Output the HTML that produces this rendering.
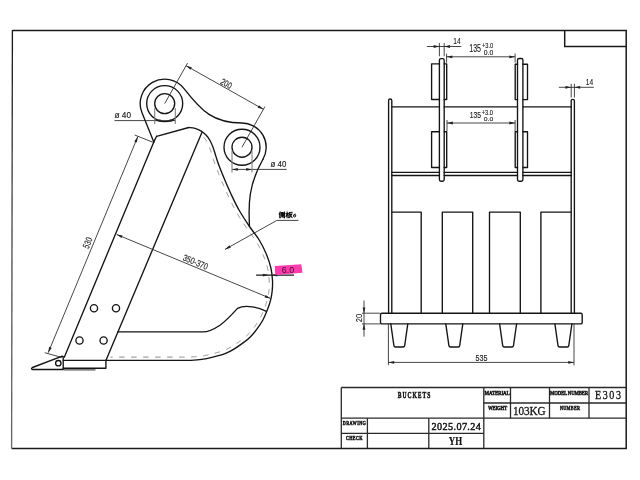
<!DOCTYPE html>
<html><head><meta charset="utf-8"><style>
html,body{margin:0;padding:0;background:#fff;}
svg{display:block;will-change:transform;}
.o{fill:none;stroke:#141414;stroke-width:1.35;stroke-linejoin:round;stroke-linecap:round;}
.f{fill:none;stroke:#1a1a1a;stroke-width:1.5;}
.tb{fill:none;stroke:#2a2a2a;stroke-width:1.3;}
.d{fill:none;stroke:#262626;stroke-width:0.85;}
.h{fill:none;stroke:#858585;stroke-width:0.95;stroke-dasharray:5.5 6.5;}
.ah{fill:#222;stroke:none;}
text{font-family:"Liberation Sans",sans-serif;}
.t{font-size:8.5px;fill:#222;}
.ts{font-size:6px;fill:#222;}
.tt{font-family:"Liberation Serif",serif;font-weight:bold;font-size:8.6px;fill:#111;}
.tl{font-family:"Liberation Serif",serif;font-weight:bold;font-size:5px;fill:#111;}
.tv{font-size:11px;fill:#111;}
.tv2{font-size:12px;fill:#111;}
.tv3{font-family:"Liberation Serif",serif;font-size:13.5px;fill:#111;}
</style></head><body>
<svg width="640" height="480" viewBox="0 0 640 480">
<rect width="640" height="480" fill="#fff"/>

<g class="f">
 <path d="M12.4,30.6 L626.2,30.6 L626.2,448.6 L11.6,448.6"/>
</g>
<defs><linearGradient id="lg" x1="0" y1="30" x2="0" y2="449" gradientUnits="userSpaceOnUse">
<stop offset="0" stop-color="#1a1a1a"/><stop offset="0.35" stop-color="#444"/><stop offset="1" stop-color="#6a6a6a"/></linearGradient></defs>
<path d="M12.4,29.9 L11.6,448.6" stroke="url(#lg)" stroke-width="1.35" fill="none"/>
<g class="f">
 <path d="M564.7,30.6 L564.7,46.5 L626.2,46.5"/>
</g>
<g class="tb">
 <path d="M341.3,387.5 L626.2,387.5 M341.3,387.5 L341.3,448.6"/>
 <path d="M341.3,418.2 L626.2,418.2 M341.3,433.3 L483.8,433.3 M483.8,403 L626.2,403"/>
 <path d="M367.4,418.2 L367.4,448.6 M428.8,418.2 L428.8,448.6 M483.8,387.5 L483.8,448.6"/>
 <path d="M510.5,387.5 L510.5,418.2 M549.5,387.5 L549.5,418.2 M589,387.5 L589,418.2"/>
</g>
<text transform="translate(397.75,398.25) scale(0.62,1)" x="0" y="0" style="font-family:'Liberation Serif',serif;font-size:9.08px;font-weight:bold;font-style:normal;stroke:#111;stroke-width:0.5" fill="#111" textLength="52.61" lengthAdjust="spacing">BUCKETS</text><text transform="translate(342.75,425.00) scale(0.75,1)" x="0" y="0" style="font-family:'Liberation Serif',serif;font-size:5.59px;font-weight:bold;font-style:normal;stroke:#111;stroke-width:0.45" fill="#111" textLength="30.85" lengthAdjust="spacing">DRAWING</text><text transform="translate(346.00,440.25) scale(0.75,1)" x="0" y="0" style="font-family:'Liberation Serif',serif;font-size:5.58px;font-weight:bold;font-style:normal;stroke:#111;stroke-width:0.45" fill="#111" textLength="22.07" lengthAdjust="spacing">CHECK</text><text transform="translate(484.50,395.00) scale(0.75,1)" x="0" y="0" style="font-family:'Liberation Serif',serif;font-size:6.65px;font-weight:bold;font-style:normal;stroke:#111;stroke-width:0.45" fill="#111" textLength="33.64" lengthAdjust="spacing">MATERIAL</text><text transform="translate(488.00,409.50) scale(0.75,1)" x="0" y="0" style="font-family:'Liberation Serif',serif;font-size:6.30px;font-weight:bold;font-style:normal;stroke:#111;stroke-width:0.45" fill="#111" textLength="25.61" lengthAdjust="spacing">WEIGHT</text><text transform="translate(550.00,394.50) scale(0.75,1)" x="0" y="0" style="font-family:'Liberation Serif',serif;font-size:6.31px;font-weight:bold;font-style:normal;stroke:#111;stroke-width:0.45" fill="#111" textLength="50.88" lengthAdjust="spacing">MODEL NUMBER</text><text transform="translate(560.00,409.75) scale(0.75,1)" x="0" y="0" style="font-family:'Liberation Serif',serif;font-size:5.59px;font-weight:bold;font-style:normal;stroke:#111;stroke-width:0.45" fill="#111" textLength="26.67" lengthAdjust="spacing">NUMBER</text><text transform="translate(431.50,429.50) scale(0.95,1)" x="0" y="0" style="font-family:'Liberation Serif',serif;font-size:10.80px;font-weight:normal;font-style:normal;stroke:#111;stroke-width:0.45" fill="#111" textLength="52.04" lengthAdjust="spacing">2025.07.24</text><text x="448.75" y="445.00" style="font-family:'Liberation Serif',serif;font-size:13.30px;font-weight:bold;font-style:normal;stroke:#111;stroke-width:0.2" fill="#111" textLength="13.40" lengthAdjust="spacingAndGlyphs">YH</text><text transform="translate(513.00,414.75) scale(0.85,1)" x="0" y="0" style="font-family:'Liberation Serif',serif;font-size:13.22px;font-weight:normal;font-style:normal;stroke:#111;stroke-width:0.3" fill="#111" textLength="38.30" lengthAdjust="spacing">103KG</text><text transform="translate(595.00,399.25) scale(0.85,1)" x="0" y="0" style="font-family:'Liberation Serif',serif;font-size:11.83px;font-weight:normal;font-style:normal;stroke:#111;stroke-width:0.3" fill="#111" textLength="30.59" lengthAdjust="spacing">E303</text>


<g class="o">
  <path d="M153.8,141.9 L142.00,112.81 A24.5,24.5 0 0 1 184.03,88.55 C201.95,111.57 213.51,123.00 242.0,123.00 A24.2,24.2 0 0 1 262.98,159.26"/>
  <path d="M262.98,159.26 C245.67,189.36 249.4,212.22 249.4,226"/>
  <path d="M156.6,136.3 L188.75,127.5 C189.79,127.65 192.92,127.80 195.00,128.40 C197.08,129.00 199.38,129.95 201.25,131.10 C203.12,132.25 204.79,133.73 206.25,135.30 C207.71,136.87 208.86,138.47 210.00,140.50 C211.14,142.53 212.18,145.08 213.10,147.50 C214.02,149.92 214.58,152.17 215.50,155.00 C216.42,157.83 217.18,160.67 218.60,164.50 C220.02,168.33 221.93,173.08 224.00,178.00 C226.07,182.92 228.50,188.67 231.00,194.00 C233.50,199.33 235.92,204.58 239.00,210.00 C242.08,215.42 246.08,221.42 249.50,226.50 C252.92,231.58 256.67,235.83 259.50,240.50 C262.33,245.17 264.60,249.92 266.50,254.50 C268.40,259.08 269.90,263.68 270.90,268.00 C271.90,272.32 272.28,276.60 272.50,280.40 C272.72,284.20 272.52,287.50 272.20,290.80 C271.88,294.10 271.38,297.07 270.60,300.20 C269.82,303.33 268.78,306.30 267.50,309.60 C266.22,312.90 264.73,316.65 262.90,320.00 C261.07,323.35 258.65,326.83 256.50,329.70 C254.35,332.57 252.12,335.08 250.00,337.20 C247.88,339.32 246.35,340.47 243.75,342.40 C241.15,344.33 237.53,346.93 234.40,348.80 C231.28,350.67 228.60,352.22 225.00,353.60 C221.40,354.98 216.65,356.13 212.80,357.10 C208.95,358.07 205.55,358.87 201.90,359.40 C198.25,359.93 194.55,360.13 190.90,360.30 C187.25,360.47 181.82,360.38 180.00,360.40 L63.3,360.4"/>
  <path d="M153.8,141.9 L156.6,136.3"/>
  <path d="M153.8,141.9 L64.3,357.2"/>
  <path d="M201.9,132.5 L105.9,360.4"/>
  <path d="M117.8,331.9 L203,331.9 C209,331.9 215,328.5 220,325.2 C226,321 232,314.5 237.5,308.4 C241,306.5 248,306.2 252,306.8 C257,307.5 262,309.3 265.9,311.2"/>
  <circle cx="164.7" cy="103.6" r="10"/>
  <circle cx="164.7" cy="103.6" r="18"/>
  <circle cx="242.0" cy="147.2" r="10"/>
  <circle cx="242.0" cy="147.2" r="18"/>
  <circle cx="94" cy="308.2" r="3.6"/>
  <circle cx="116" cy="308.2" r="3.6"/>
  <circle cx="79.5" cy="340.5" r="3.6"/>
  <circle cx="103.6" cy="340.5" r="3.6"/>
  <path d="M32.5,367.5 L62.3,356.2 L63.2,356.6 L63.2,369.5 L32.5,369.5 Q30.5,368.8 32.5,367.5 Z"/>
  <circle cx="58.3" cy="363.2" r="2.7"/>
  <path d="M63.2,368.2 L105.9,368.2 L105.9,360.4"/>
</g>
<path d="M63.7,369.9 L95.5,369.9" stroke="#555" stroke-width="1.2"/>
<path class="h" d="M203.44,137.13 L203.57,137.27 L203.70,137.41 L203.83,137.55 L203.96,137.69 L204.09,137.82 L204.21,137.96 L204.33,138.10 L204.45,138.24 L204.57,138.38 L204.68,138.51 L204.80,138.65 L204.91,138.79 L205.02,138.93 L205.13,139.08 L205.24,139.22 L205.35,139.36 L205.46,139.51 L205.57,139.65 L205.67,139.80 L205.78,139.95 L205.88,140.10 L205.99,140.26 L206.09,140.41 L206.19,140.57 L206.30,140.73 L206.40,140.90 L206.50,141.06 L206.61,141.23 L206.71,141.40 L206.81,141.57 L206.92,141.75 L207.02,141.93 L207.12,142.11 L207.22,142.29 L207.32,142.48 L207.42,142.66 L207.52,142.85 L207.62,143.05 L207.72,143.25 L207.82,143.45 L207.92,143.65 L208.02,143.86 L208.12,144.07 L208.21,144.29 L208.31,144.50 L208.41,144.72 L208.51,144.95 L208.61,145.17 L208.70,145.40 L208.80,145.62 L208.90,145.85 L208.99,146.08 L209.09,146.31 L209.18,146.55 L209.28,146.78 L209.37,147.02 L209.47,147.25 L209.56,147.49 L209.65,147.72 L209.74,147.96 L209.83,148.20 L209.92,148.43 L210.01,148.67 L210.10,148.89 L210.18,149.11 L210.26,149.33 L210.34,149.55 L210.41,149.77 L210.49,149.99 L210.56,150.22 L210.64,150.44 L210.71,150.66 L210.78,150.89 L210.85,151.12 L210.93,151.35 L211.00,151.58 L211.07,151.82 L211.14,152.05 L211.22,152.29 L211.29,152.54 L211.36,152.78 L211.44,153.03 L211.51,153.28 L211.59,153.54 L211.67,153.80 L211.75,154.06 L211.83,154.33 L211.91,154.60 L212.00,154.87 L212.09,155.15 L212.17,155.44 L212.27,155.72 L212.36,156.01 L212.45,156.29 L212.54,156.56 L212.62,156.84 L212.71,157.12 L212.80,157.40 L212.89,157.68 L212.97,157.97 L213.06,158.26 L213.15,158.55 L213.24,158.84 L213.33,159.14 L213.43,159.44 L213.52,159.74 L213.62,160.05 L213.71,160.36 L213.81,160.68 L213.91,161.00 L214.02,161.32 L214.12,161.65 L214.23,161.99 L214.35,162.33 L214.46,162.67 L214.58,163.02 L214.70,163.38 L214.82,163.74 L214.95,164.11 L215.08,164.48 L215.22,164.86 L215.36,165.25 L215.50,165.64 L215.65,166.04 L215.80,166.44 L215.95,166.84 L216.11,167.25 L216.27,167.67 L216.43,168.09 L216.59,168.51 L216.76,168.94 L216.93,169.38 L217.10,169.82 L217.27,170.26 L217.45,170.71 L217.63,171.16 L217.81,171.61 L217.99,172.07 L218.18,172.53 L218.37,173.00 L218.56,173.47 L218.75,173.94 L218.94,174.41 L219.14,174.89 L219.33,175.37 L219.53,175.85 L219.73,176.34 L219.93,176.82 L220.14,177.31 L220.34,177.80 L220.54,178.29 L220.75,178.78 L220.96,179.28 L221.17,179.77 L221.38,180.27 L221.59,180.78 L221.81,181.29 L222.02,181.81 L222.24,182.33 L222.46,182.85 L222.69,183.38 L222.91,183.91 L223.14,184.44 L223.37,184.98 L223.60,185.52 L223.84,186.07 L224.07,186.61 L224.31,187.16 L224.55,187.71 L224.79,188.26 L225.03,188.81 L225.27,189.36 L225.52,189.91 L225.76,190.46 L226.01,191.01 L226.25,191.57 L226.50,192.12 L226.75,192.67 L227.00,193.22 L227.25,193.77 L227.51,194.31 L227.76,194.86 L228.01,195.40 L228.26,195.93 L228.51,196.46 L228.76,197.00 L229.01,197.53 L229.26,198.06 L229.51,198.60 L229.76,199.13 L230.01,199.66 L230.27,200.20 L230.52,200.73 L230.78,201.27 L231.03,201.81 L231.29,202.34 L231.55,202.88 L231.82,203.42 L232.08,203.96 L232.35,204.50 L232.62,205.04 L232.90,205.59 L233.17,206.13 L233.45,206.67 L233.73,207.22 L234.02,207.77 L234.31,208.32 L234.60,208.87 L234.90,209.42 L235.20,209.97 L235.51,210.52 L235.82,211.08 L236.13,211.63 L236.45,212.19 L236.78,212.75 L237.11,213.32 L237.44,213.88 L237.78,214.45 L238.13,215.02 L238.47,215.59 L238.82,216.16 L239.18,216.73 L239.54,217.31 L239.90,217.88 L240.26,218.45 L240.62,219.02 L240.98,219.59 L241.35,220.16 L241.72,220.73 L242.09,221.30 L242.45,221.86 L242.82,222.42 L243.19,222.98 L243.55,223.54 L243.92,224.09 L244.28,224.64 L244.65,225.18 L245.01,225.72 L245.36,226.26 L245.72,226.79 L246.07,227.31 L246.42,227.83 L246.76,228.35 L247.12,228.87 L247.48,229.39 L247.84,229.90 L248.19,230.41 L248.55,230.91 L248.91,231.40 L249.27,231.89 L249.63,232.38 L249.99,232.86 L250.34,233.33 L250.69,233.80 L251.05,234.27 L251.39,234.73 L251.74,235.19 L252.08,235.64 L252.42,236.09 L252.76,236.54 L253.09,236.99 L253.42,237.43 L253.74,237.87 L254.06,238.31 L254.37,238.75 L254.68,239.18 L254.99,239.62 L255.28,240.05 L255.58,240.48 L255.86,240.92 L256.14,241.35 L256.41,241.78 L256.68,242.22 L256.95,242.66 L257.22,243.11 L257.48,243.56 L257.74,244.01 L258.00,244.46 L258.25,244.91 L258.50,245.37 L258.75,245.82 L258.99,246.27 L259.23,246.73 L259.47,247.18 L259.71,247.63 L259.94,248.09 L260.17,248.54 L260.39,248.99 L260.61,249.45 L260.83,249.90 L261.05,250.35 L261.27,250.81 L261.48,251.26 L261.69,251.71 L261.89,252.16 L262.10,252.62 L262.30,253.07 L262.50,253.52 L262.69,253.97 L262.89,254.42 L263.08,254.87 L263.27,255.32 L263.45,255.76 L263.63,256.21 L263.81,256.65 L263.99,257.09 L264.16,257.54 L264.34,257.98 L264.51,258.42 L264.67,258.86 L264.84,259.30 L265.00,259.74 L265.15,260.18 L265.31,260.62 L265.46,261.06 L265.61,261.50 L265.76,261.94 L265.90,262.37 L266.04,262.81 L266.18,263.24 L266.31,263.67 L266.44,264.11 L266.57,264.54 L266.70,264.96 L266.82,265.39 L266.94,265.82 L267.06,266.24 L267.17,266.66 L267.28,267.08 L267.38,267.50 L267.49,267.92 L267.59,268.33 L267.68,268.74 L267.78,269.15 L267.86,269.55 L267.95,269.96 L268.03,270.36 L268.11,270.76 L268.18,271.17 L268.25,271.57 L268.32,271.97 L268.39,272.38 L268.45,272.78 L268.51,273.18 L268.56,273.58 L268.62,273.98 L268.67,274.38 L268.72,274.78 L268.76,275.18 L268.81,275.58 L268.85,275.97 L268.89,276.37 L268.93,276.76 L268.96,277.15 L268.99,277.54 L269.03,277.93 L269.06,278.32 L269.08,278.70 L269.11,279.08 L269.14,279.46 L269.16,279.84 L269.18,280.21 L269.21,280.58 L269.22,280.94 L269.24,281.30 L269.26,281.65 L269.27,281.99 L269.28,282.34 L269.28,282.68 L269.29,283.02 L269.29,283.36 L269.29,283.69 L269.29,284.03 L269.29,284.36 L269.28,284.69 L269.27,285.02 L269.26,285.34 L269.25,285.67 L269.24,285.99 L269.23,286.31 L269.21,286.64 L269.19,286.96 L269.17,287.28 L269.15,287.60 L269.13,287.92 L269.11,288.24 L269.08,288.56 L269.06,288.88 L269.03,289.20 L269.00,289.52 L268.98,289.84 L268.95,290.16 L268.92,290.48 L268.88,290.80 L268.85,291.11 L268.82,291.42 L268.78,291.73 L268.75,292.04 L268.71,292.34 L268.67,292.64 L268.63,292.94 L268.59,293.24 L268.55,293.54 L268.51,293.83 L268.46,294.13 L268.42,294.42 L268.37,294.72 L268.32,295.01 L268.27,295.30 L268.22,295.59 L268.17,295.88 L268.11,296.18 L268.05,296.47 L268.00,296.76 L267.94,297.05 L267.88,297.34 L267.81,297.63 L267.75,297.92 L267.68,298.22 L267.61,298.51 L267.54,298.81 L267.47,299.10 L267.40,299.40 L267.32,299.69 L267.25,299.99 L267.17,300.28 L267.09,300.57 L267.01,300.86 L266.93,301.16 L266.84,301.45 L266.76,301.74 L266.67,302.03 L266.58,302.32 L266.49,302.62 L266.40,302.91 L266.30,303.20 L266.21,303.50 L266.11,303.79 L266.01,304.09 L265.91,304.38 L265.80,304.68 L265.70,304.98 L265.59,305.28 L265.48,305.59 L265.37,305.89 L265.26,306.20 L265.15,306.51 L265.03,306.82 L264.91,307.13 L264.79,307.45 L264.67,307.76 L264.55,308.08 L264.42,308.41 L264.30,308.73 L264.17,309.07 L264.04,309.40 L263.90,309.73 L263.77,310.07 L263.64,310.41 L263.50,310.75 L263.37,311.09 L263.23,311.43 L263.09,311.77 L262.95,312.11 L262.81,312.45 L262.66,312.79 L262.52,313.14 L262.37,313.48 L262.23,313.82 L262.08,314.16 L261.93,314.50 L261.78,314.84 L261.62,315.17 L261.47,315.51 L261.31,315.84 L261.15,316.17 L260.99,316.50 L260.83,316.83 L260.67,317.15 L260.51,317.47 L260.34,317.79 L260.17,318.10 L260.00,318.42 L259.83,318.73 L259.65,319.04 L259.47,319.36 L259.29,319.68 L259.10,320.00 L258.91,320.32 L258.72,320.64 L258.52,320.96 L258.32,321.28 L258.12,321.60 L257.91,321.92 L257.71,322.24 L257.50,322.56 L257.29,322.88 L257.08,323.20 L256.86,323.51 L256.65,323.83 L256.43,324.14 L256.22,324.45 L256.00,324.76 L255.79,325.07 L255.57,325.38 L255.35,325.68 L255.14,325.98 L254.92,326.28 L254.71,326.57 L254.49,326.87 L254.28,327.15 L254.07,327.44 L253.86,327.72 L253.65,327.99 L253.45,328.26 L253.24,328.53 L253.04,328.80 L252.83,329.06 L252.62,329.32 L252.42,329.58 L252.21,329.84 L252.00,330.09 L251.79,330.34 L251.58,330.59 L251.38,330.84 L251.17,331.08 L250.96,331.32 L250.75,331.56 L250.54,331.80 L250.34,332.04 L250.13,332.27 L249.92,332.50 L249.72,332.73 L249.51,332.95 L249.30,333.17 L249.10,333.39 L248.89,333.61 L248.69,333.83 L248.48,334.04 L248.28,334.25 L248.08,334.46 L247.87,334.66 L247.67,334.86 L247.47,335.06 L247.28,335.24 L247.09,335.43 L246.91,335.60 L246.73,335.78 L246.55,335.94 L246.37,336.10 L246.19,336.26 L246.02,336.42 L245.84,336.57 L245.67,336.72 L245.50,336.87 L245.32,337.02 L245.14,337.17 L244.97,337.31 L244.78,337.46 L244.60,337.61 L244.42,337.75 L244.22,337.90 L244.03,338.06 L243.83,338.21 L243.63,338.37 L243.42,338.52 L243.21,338.69 L242.98,338.85 L242.76,339.02 L242.52,339.20 L242.28,339.38 L242.04,339.56 L241.78,339.75 L241.52,339.94 L241.26,340.14 L240.99,340.34 L240.71,340.54 L240.43,340.75 L240.14,340.96 L239.85,341.17 L239.55,341.38 L239.25,341.60 L238.95,341.82 L238.64,342.04 L238.33,342.25 L238.02,342.47 L237.71,342.69 L237.39,342.91 L237.07,343.13 L236.76,343.35 L236.44,343.57 L236.12,343.78 L235.80,344.00 L235.48,344.21 L235.17,344.42 L234.85,344.63 L234.53,344.83 L234.22,345.03 L233.91,345.23 L233.61,345.42 L233.30,345.61 L233.00,345.79 L232.70,345.97 L232.40,346.15 L232.09,346.33 L231.79,346.51 L231.50,346.69 L231.20,346.86 L230.91,347.03 L230.62,347.20 L230.33,347.36 L230.04,347.53 L229.76,347.69 L229.47,347.85 L229.19,348.00 L228.91,348.16 L228.63,348.31 L228.34,348.46 L228.06,348.61 L227.77,348.75 L227.49,348.90 L227.20,349.04 L226.91,349.18 L226.62,349.32 L226.32,349.46 L226.02,349.60 L225.72,349.73 L225.42,349.87 L225.11,350.00 L224.79,350.13 L224.47,350.26 L224.15,350.39 L223.82,350.52 L223.48,350.64 L223.14,350.77 L222.79,350.89 L222.44,351.02 L222.07,351.14 L221.70,351.26 L221.32,351.39 L220.94,351.51 L220.55,351.63 L220.15,351.74 L219.75,351.86 L219.35,351.98 L218.94,352.10 L218.53,352.21 L218.12,352.32 L217.71,352.44 L217.29,352.55 L216.88,352.66 L216.46,352.77 L216.05,352.88 L215.63,352.98 L215.22,353.09 L214.80,353.19 L214.39,353.30 L213.99,353.40 L213.58,353.50 L213.18,353.60 L212.78,353.70 L212.39,353.80 L212.00,353.90 L211.62,353.99 L211.24,354.09 L210.87,354.18 L210.49,354.27 L210.13,354.36 L209.76,354.45 L209.40,354.54 L209.04,354.63 L208.68,354.71 L208.33,354.79 L207.97,354.88 L207.62,354.96 L207.27,355.03 L206.92,355.11 L206.58,355.19 L206.23,355.26 L205.89,355.33 L205.54,355.41 L205.20,355.48 L204.86,355.54 L204.51,355.61 L204.17,355.67 L203.83,355.74 L203.49,355.80 L203.15,355.86 L202.80,355.92 L202.46,355.97 L202.11,356.03 L201.77,356.08 L201.42,356.13 L201.08,356.18 L200.73,356.23 L200.38,356.28 L200.04,356.32 L199.69,356.36 L199.34,356.40 L198.99,356.44 L198.63,356.48 L198.28,356.51 L197.93,356.55 L197.58,356.58 L197.22,356.61 L196.87,356.64 L196.51,356.67 L196.15,356.70 L195.80,356.72 L195.44,356.75 L195.08,356.77 L194.72,356.79 L194.36,356.82 L194.00,356.84 L193.64,356.86 L193.28,356.88 L192.92,356.90 L192.56,356.92 L192.20,356.93 L191.84,356.95 L191.48,356.97 L191.11,356.99 L190.75,357.00 L190.40,357.02 L190.03,357.03 L189.66,357.04 L189.27,357.06 L188.88,357.06 L188.47,357.07 L188.07,357.08 L187.66,357.09 L187.24,357.09 L186.83,357.10 L186.41,357.10 L185.99,357.10 L185.58,357.10 L185.17,357.11 L184.76,357.11 L184.36,357.11 L183.96,357.11 L183.58,357.11 L183.20,357.10 L182.83,357.10 L182.48,357.10 L182.13,357.10 L181.80,357.10 L181.49,357.10 L181.19,357.10 L180.91,357.10 L180.65,357.10 L180.40,357.10 L180.18,357.10 L179.98,357.10 L110.5,357.1"/>


<g class="d">
 <path d="M164.70,103.60 L187.54,63.10"/>
 <path d="M242.00,147.20 L264.84,106.70"/>
 <path d="M186.07,65.71 L263.37,109.31"/>
 <path d="M114.5,120.6 L175.3,120.6 M232,169.4 L286.7,169.4"/>
 <path d="M154.7,108 L154.7,124 M175.3,108 L175.3,124 M232,150.5 L232,172.5 M252,150.5 L252,172.5" stroke="#808080" stroke-width="1.1"/>
 <path d="M134.7,135 L152.8,142.2"/>
 <path d="M44.7,352.7 L62.3,357.6"/>
 <path d="M137.8,136.6 L48.2,352.7"/>
 <path d="M116.7,234.5 L270.5,298.4"/>
 <path d="M225,249.4 L276.9,220.4 L298.4,220.4"/>
</g>
<path class="ah" d="M186.07,65.71 L191.81,67.34 L190.43,69.78 Z"/><path class="ah" d="M263.37,109.31 L257.63,107.68 L259.01,105.24 Z"/>
<path class="ah" d="M154.70,120.60 L160.50,119.20 L160.50,122.00 Z"/><path class="ah" d="M175.30,120.60 L169.50,122.00 L169.50,119.20 Z"/>
<path class="ah" d="M232.00,169.40 L237.80,168.00 L237.80,170.80 Z"/><path class="ah" d="M252.00,169.40 L246.20,170.80 L246.20,168.00 Z"/>
<path class="ah" d="M137.80,136.60 L136.87,142.49 L134.29,141.42 Z"/><path class="ah" d="M48.20,352.70 L49.13,346.81 L51.71,347.88 Z"/>
<path class="ah" d="M116.70,234.50 L122.59,235.43 L121.52,238.02 Z"/><path class="ah" d="M270.50,298.40 L264.61,297.47 L265.68,294.88 Z"/>
<path class="ah" d="M225.00,249.40 L229.38,245.35 L230.75,247.79 Z"/>
<path d="M256.1,275.1 L294,275.1" stroke="#1a1a1a" stroke-width="1.05" fill="none"/><path class="ah" d="M268.60,275.10 L262.80,276.50 L262.80,273.70 Z"/><path class="ah" d="M271.60,275.10 L277.40,273.70 L277.40,276.50 Z"/>
<text transform="translate(226.40,83.60) rotate(29.4) translate(-5.88,3.12)" x="0" y="0" style="font-family:'Liberation Sans',sans-serif;font-size:9.09px;stroke:#1a1a1a;stroke-width:0.12" fill="#1a1a1a" textLength="11.60" lengthAdjust="spacingAndGlyphs">200</text><text transform="translate(87.60,242.90) rotate(-67.9) translate(-5.50,3.25)" x="0" y="0" style="font-family:'Liberation Sans',sans-serif;font-size:9.46px;stroke:#1a1a1a;stroke-width:0.12" fill="#1a1a1a" textLength="11.10" lengthAdjust="spacingAndGlyphs">530</text><text transform="translate(195.60,262.20) rotate(22.5) translate(-13.25,3.12)" x="0" y="0" style="font-family:'Liberation Sans',sans-serif;font-size:9.08px;stroke:#1a1a1a;stroke-width:0.12" fill="#1a1a1a" textLength="26.35" lengthAdjust="spacingAndGlyphs">350-370</text><text transform="translate(358.75,318.10) rotate(-90) translate(-4.12,3.38)" x="0" y="0" style="font-family:'Liberation Sans',sans-serif;font-size:9.81px;stroke:#1a1a1a;stroke-width:0.12" fill="#1a1a1a" textLength="8.35" lengthAdjust="spacingAndGlyphs">20</text>
<text x="114.50" y="118.25" style="font-family:'Liberation Sans',sans-serif;font-size:9.03px;font-weight:normal;font-style:normal;stroke:#1a1a1a;stroke-width:0.15" fill="#1a1a1a" textLength="16.54" lengthAdjust="spacingAndGlyphs">ø 40</text><text x="270.50" y="167.25" style="font-family:'Liberation Sans',sans-serif;font-size:9.03px;font-weight:normal;font-style:normal;stroke:#1a1a1a;stroke-width:0.15" fill="#1a1a1a" textLength="15.76" lengthAdjust="spacingAndGlyphs">ø 40</text>


<g class="o">
  <path d="M388.6,313.2 L388.6,100.5 Q388.6,99 390.2,99 Q391.8,99 391.8,100.5 L391.8,313.2"/>
  <path d="M571.2,313.2 L571.2,100.8 Q571.2,99.3 572.8,99.3 Q574.4,99.3 574.4,100.8 L574.4,313.2"/>
  <path d="M391.8,106.9 L439.4,106.9 M444.2,106.9 L517.5,106.9 M522.9,106.9 L571.2,106.9"/>
  <path d="M391.8,172.3 L439.4,172.3 M444.2,172.3 L517.5,172.3 M522.9,172.3 L571.2,172.3"/>
  <path d="M391.8,175.5 L439.4,175.5 M444.2,175.5 L517.5,175.5 M522.9,175.5 L571.2,175.5"/>
  <rect x="439.4" y="58.6" width="4.80" height="122.60" rx="1.6"/>
  <rect x="517.5" y="58.5" width="5.40" height="122.70" rx="1.6"/>
  <path d="M439.4,63.9 L431.6,63.9 L431.6,99.5 L439.4,99.5 M444.2,63.9 L446.7,63.9 L446.7,99.5 L444.2,99.5"/>
  <path d="M439.4,131.7 L431.6,131.7 L431.6,167.5 L439.4,167.5 M444.2,131.7 L446.7,131.7 L446.7,167.5 L444.2,167.5"/>
  <path d="M517.5,64.2 L515.2,64.2 L515.2,99.6 L517.5,99.6 M522.9,64.2 L527.5,64.2 L527.5,99.6 L522.9,99.6"/>
  <path d="M517.5,131.7 L515.2,131.7 L515.2,167.5 L517.5,167.5 M522.9,131.7 L527.5,131.7 L527.5,167.5 L522.9,167.5"/>
  <path d="M391.8,212.1 L421.2,212.1 L421.2,313.2"/>
  <path d="M442.3,313.2 L442.3,212.1 L472.7,212.1 L472.7,313.2"/>
  <path d="M489.5,313.2 L489.5,212.1 L520.3,212.1 L520.3,313.2"/>
  <path d="M540.9,313.2 L540.9,212.1 L571.2,212.1"/>
  <rect x="380.5" y="313.2" width="201.70" height="10.70" rx="1.5"/>
  <path d="M390.80,323.9 L393.90,345.6 Q394.10,347 395.50,347 L403.10,347 Q404.50,347 404.70,345.6 L407.80,323.9"/>
  <path d="M445.80,323.9 L448.90,345.6 Q449.10,347 450.50,347 L458.10,347 Q459.50,347 459.70,345.6 L462.80,323.9"/>
  <path d="M499.60,323.9 L502.70,345.6 Q502.90,347 504.30,347 L511.90,347 Q513.30,347 513.50,345.6 L516.60,323.9"/>
  <path d="M554.90,323.9 L558.00,345.6 Q558.20,347 559.60,347 L567.20,347 Q568.60,347 568.80,345.6 L571.90,323.9"/>
</g>


<g class="d">
 <path d="M426.9,46.5 L461.3,46.5 M439.4,43.1 L439.4,56.3 M444.2,43.1 L444.2,56.3"/>
 <path d="M446.6,53.7 L446.6,62.8 M515.1,53.5 L515.1,62.6 M446.6,56.8 L515.1,56.8"/>
 <path d="M447,120 L447,131 M515.1,120 L515.1,131 M447,123 L515.1,123"/>
 <path d="M558.8,87.3 L593.8,87.3 M571.2,83.8 L571.2,97.5 M574.4,83.8 L574.4,97.5"/>
 <path d="M364,300.5 L364,336.6 M362,313.2 L380,313.2 M362,323.9 L380,323.9"/>
 <path d="M388.4,324 L388.4,365.2 M574,324 L574,365.4 M388.4,362.4 L574,362.4"/>
</g>
<path class="ah" d="M439.40,46.50 L433.60,47.90 L433.60,45.10 Z"/><path class="ah" d="M444.20,46.50 L450.00,45.10 L450.00,47.90 Z"/>
<path class="ah" d="M446.60,56.80 L452.40,55.40 L452.40,58.20 Z"/><path class="ah" d="M515.10,56.80 L509.30,58.20 L509.30,55.40 Z"/>
<path class="ah" d="M447.00,123.00 L452.80,121.60 L452.80,124.40 Z"/><path class="ah" d="M515.10,123.00 L509.30,124.40 L509.30,121.60 Z"/>
<path class="ah" d="M571.20,87.30 L565.40,88.70 L565.40,85.90 Z"/><path class="ah" d="M574.40,87.30 L580.20,85.90 L580.20,88.70 Z"/>
<path class="ah" d="M364.00,313.20 L362.60,307.40 L365.40,307.40 Z"/><path class="ah" d="M364.00,323.90 L365.40,329.70 L362.60,329.70 Z"/>
<path class="ah" d="M388.40,362.40 L394.20,361.00 L394.20,363.80 Z"/><path class="ah" d="M574.00,362.40 L568.20,363.80 L568.20,361.00 Z"/>
<text x="453.25" y="44.25" style="font-family:'Liberation Sans',sans-serif;font-size:8.71px;font-weight:normal;font-style:normal;stroke:#1a1a1a;stroke-width:0.12" fill="#1a1a1a" textLength="7.36" lengthAdjust="spacingAndGlyphs">14</text><text x="469.25" y="52.25" style="font-family:'Liberation Sans',sans-serif;font-size:10.42px;font-weight:normal;font-style:normal;stroke:#1a1a1a;stroke-width:0.12" fill="#1a1a1a" textLength="11.82" lengthAdjust="spacingAndGlyphs">135</text><text x="482.00" y="48.00" style="font-family:'Liberation Sans',sans-serif;font-size:8.00px;font-weight:normal;font-style:normal;stroke:#1a1a1a;stroke-width:0.12" fill="#1a1a1a" textLength="11.29" lengthAdjust="spacingAndGlyphs">+3.0</text><text x="483.75" y="54.75" style="font-family:'Liberation Sans',sans-serif;font-size:6.60px;font-weight:normal;font-style:normal;stroke:#1a1a1a;stroke-width:0.12" fill="#1a1a1a" textLength="9.45" lengthAdjust="spacingAndGlyphs">0.0</text><text x="469.75" y="118.25" style="font-family:'Liberation Sans',sans-serif;font-size:9.06px;font-weight:normal;font-style:normal;stroke:#1a1a1a;stroke-width:0.12" fill="#1a1a1a" textLength="11.30" lengthAdjust="spacingAndGlyphs">135</text><text x="481.75" y="114.50" style="font-family:'Liberation Sans',sans-serif;font-size:6.96px;font-weight:normal;font-style:normal;stroke:#1a1a1a;stroke-width:0.12" fill="#1a1a1a" textLength="11.29" lengthAdjust="spacingAndGlyphs">+3.0</text><text x="483.75" y="120.75" style="font-family:'Liberation Sans',sans-serif;font-size:6.26px;font-weight:normal;font-style:normal;stroke:#1a1a1a;stroke-width:0.12" fill="#1a1a1a" textLength="9.45" lengthAdjust="spacingAndGlyphs">0.0</text><text x="585.75" y="84.50" style="font-family:'Liberation Sans',sans-serif;font-size:8.71px;font-weight:normal;font-style:normal;stroke:#1a1a1a;stroke-width:0.12" fill="#1a1a1a" textLength="7.36" lengthAdjust="spacingAndGlyphs">14</text><text x="475.50" y="360.75" style="font-family:'Liberation Sans',sans-serif;font-size:9.39px;font-weight:normal;font-style:normal;stroke:#1a1a1a;stroke-width:0.12" fill="#1a1a1a" textLength="12.08" lengthAdjust="spacingAndGlyphs">535</text>


<path d="M274.9,266 L301.3,264.3 L302.5,272.7 L275.2,274.9 Z" fill="#ff3cae"/>
<text x="281.75" y="273.00" style="font-family:'Liberation Sans',sans-serif;font-size:8.69px;font-weight:normal;font-style:normal;" fill="#4a0830" textLength="12.34" lengthAdjust="spacingAndGlyphs">6.0</text>
<g fill="#222">
</g>
<g fill="none" stroke="#111" stroke-width="1.05" stroke-linecap="square">
 <path d="M280.2,211.9 L279.2,214.2 M279.7,213.6 L279.7,217.8"/>
 <path d="M280.9,212.4 L282.6,212.4 L282.6,215.6 L280.9,215.6 Z M281.75,213.2 L281.75,215 M281.2,216.3 L280.6,217.6 M282.3,216.3 L282.9,217.4"/>
 <path d="M283.5,212.8 L283.5,216.2 M284.5,211.9 L284.5,217.8 L284,217.6"/>
 <path d="M286,213.6 L288.3,213.6 M287.15,211.9 L287.15,217.8 M287.1,214 L286,216.4 M287.3,214.3 L288.2,215.3"/>
 <path d="M292.2,212.3 L289.3,212.6 L289.1,215.5 L288.6,217.6 M289.5,214.1 L291.8,214.1 L290.6,216.2 L289.4,217.6 M290.2,214.9 L292.1,217.6"/>
</g>
<g>
<path d="M295.8,214.2 Q294.2,213.4 293.75,215.7" fill="none" stroke="#111" stroke-width="1"/><ellipse cx="294.6" cy="215.9" rx="1.2" ry="1.05" fill="none" stroke="#111" stroke-width="1"/>
</g>

</svg>
</body></html>
